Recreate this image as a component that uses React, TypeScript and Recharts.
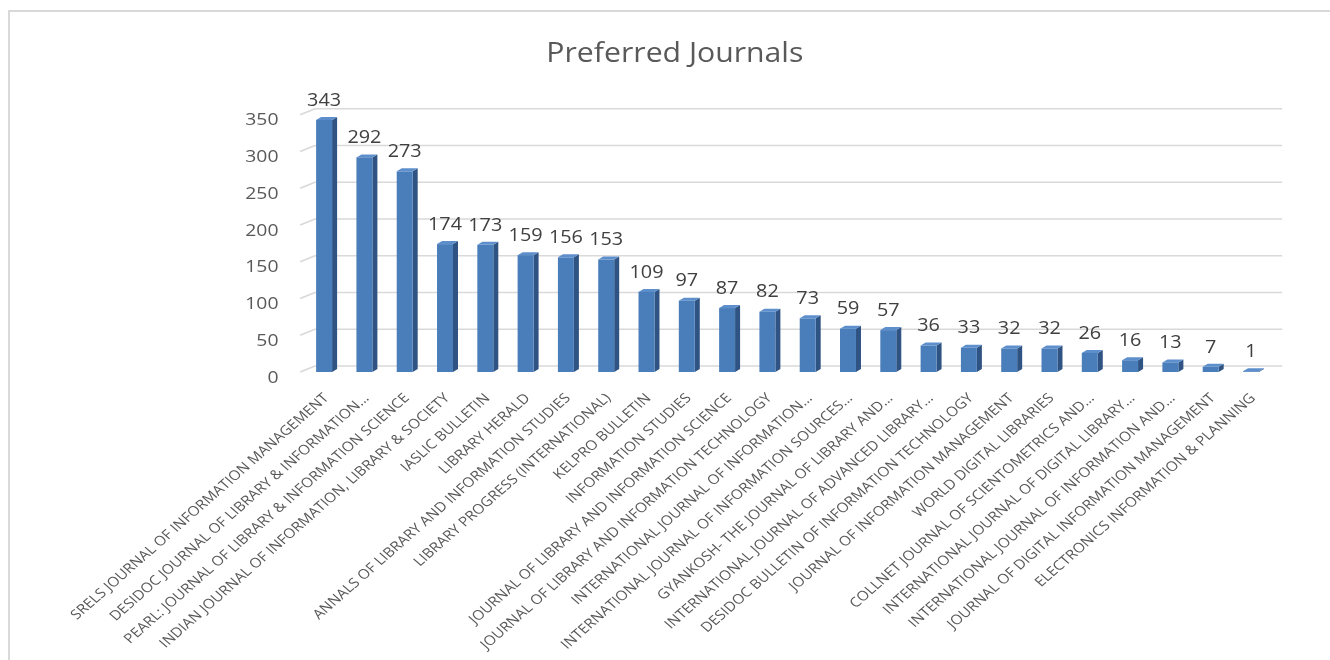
import React from 'react';
import { BarChart, Bar, XAxis, YAxis, CartesianGrid, LabelList } from 'recharts';

const journals = [
  'SRELS JOURNAL OF INFORMATION MANAGEMENT',
  'DESIDOC JOURNAL OF LIBRARY & INFORMATION…',
  'PEARL: JOURNAL OF LIBRARY & INFORMATION SCIENCE',
  'INDIAN JOURNAL OF INFORMATION, LIBRARY & SOCIETY',
  'IASLIC BULLETIN',
  'LIBRARY HERALD',
  'ANNALS OF LIBRARY AND INFORMATION STUDIES',
  'LIBRARY PROGRESS (INTERNATIONAL)',
  'KELPRO BULLETIN',
  'INFORMATION STUDIES',
  'JOURNAL OF LIBRARY AND INFORMATION SCIENCE',
  'JOURNAL OF LIBRARY AND INFORMATION TECHNOLOGY',
  'INTERNATIONAL JOURNAL OF INFORMATION…',
  'INTERNATIONAL JOURNAL OF INFORMATION SOURCES…',
  'GYANKOSH- THE JOURNAL OF LIBRARY AND…',
  'INTERNATIONAL JOURNAL OF ADVANCED LIBRARY…',
  'DESIDOC BULLETIN OF INFORMATION TECHNOLOGY',
  'JOURNAL OF INFORMATION MANAGEMENT',
  'WORLD DIGITAL LIBRARIES',
  'COLLNET JOURNAL OF SCIENTOMETRICS AND…',
  'INTERNATIONAL JOURNAL OF DIGITAL LIBRARY…',
  'INTERNATIONAL JOURNAL OF INFORMATION AND…',
  'JOURNAL OF DIGITAL INFORMATION MANAGEMENT',
  'ELECTRONICS INFORMATION & PLANNING',
];

const counts = [343, 292, 273, 174, 173, 159, 156, 153, 109, 97, 87, 82, 73, 59, 57, 36, 33, 32, 32, 26, 16, 13, 7, 1];

const yTicks = [0, 50, 100, 150, 200, 250, 300, 350];

const titleText = 'Preferred Journals';

const data = journals.map((name, i) => ({ name, value: counts[i] }));

const SX = 1.14;
const W = 1167;
const H = 660;
const FONT = '"Open Sans", "Noto Sans", sans-serif';

const Bar3D = (props: any) => {
  const { x, y, width, height } = props;
  const d = 4.4;
  const dy = 3;
  return (
    <g>
      <polygon
        points={`${x + width},${y} ${x + width + d},${y - dy} ${x + width + d},${y + height - dy} ${x + width},${y + height}`}
        fill="#2f5382"
      />
      <polygon
        points={`${x},${y} ${x + d},${y - dy} ${x + width + d},${y - dy} ${x + width},${y}`}
        fill="#5e8fcd"
      />
      <rect x={x} y={y} width={width} height={height} fill="#4a7ebb" />
    </g>
  );
};

const gridLine = (p: any) => {
  const { x1, x2, y1 } = p;
  return (
    <g key={`grid-${y1}`}>
      <line x1={x1 - 3} y1={y1} x2={x1 + 10} y2={y1 - 6} stroke="#d9d9d9" strokeWidth={1.4} />
      <line x1={x1 + 10} y1={y1 - 6} x2={x2 + 10} y2={y1 - 6} stroke="#d9d9d9" strokeWidth={1.5} />
    </g>
  );
};

const YTick = (p: any) => (
  <text x={p.x} y={p.y + 10.6} textAnchor="end" fill="#595959" fontSize={17} fontFamily={FONT}>
    {p.payload.value}
  </text>
);

const XTick = (p: any) => {
  const x = p.x - 1.8;
  const y = p.y;
  return (
    <text
      x={x}
      y={y}
      dy="0.71em"
      textAnchor="end"
      transform={`rotate(-45, ${x}, ${y})`}
      fill="#595959"
      fontSize={13.5}
      fontFamily={FONT}
    >
      {p.payload.value}
    </text>
  );
};

const ValueLabel = (p: any) => (
  <text
    x={p.x + p.width / 2}
    y={p.y - 14.3}
    textAnchor="middle"
    fill="#404040"
    fontSize={17.4}
    fontFamily={FONT}
  >
    {p.value}
  </text>
);

export default function App() {
  return (
    <>
      <div
        style={{
          position: 'fixed',
          left: 8,
          top: 10,
          width: 1330,
          height: 660,
          borderTop: '2px solid #d9d9d9',
          borderLeft: '2px solid #d9d9d9',
          boxSizing: 'border-box',
        }}
      />
      <div
        style={{
          position: 'fixed',
          left: 0,
          top: 0,
          width: W,
          height: H,
          transform: `scaleX(${SX})`,
          transformOrigin: '0 0',
        }}
      >
        <svg style={{ position: 'absolute', left: 0, top: 0 }} width={W} height={80}>
          <text x={592} y={62} textAnchor="middle" fontSize={26.5} fill="#595959" fontFamily={FONT}>
            {titleText}
          </text>
        </svg>
        <div style={{ position: 'absolute', left: 0, top: 0 }}>
          <BarChart
            width={W}
            height={H}
            data={data}
            margin={{ top: 114.75, left: 206.3, right: 52.3, bottom: 258 }}
          >
            <CartesianGrid vertical={false} horizontal={gridLine} />
            <XAxis
              dataKey="name"
              interval={0}
              height={30}
              axisLine={false}
              tickLine={false}
              tickSize={0}
              tickMargin={20}
              tick={<XTick />}
            />
            <YAxis
              domain={[0, 350]}
              ticks={yTicks}
              width={60}
              axisLine={false}
              tickLine={false}
              tickSize={0}
              tickMargin={22}
              tick={<YTick />}
            />
            <Bar dataKey="value" barSize={14} shape={<Bar3D />} isAnimationActive={false}>
              <LabelList dataKey="value" content={<ValueLabel />} />
            </Bar>
          </BarChart>
        </div>
      </div>
    </>
  );
}
